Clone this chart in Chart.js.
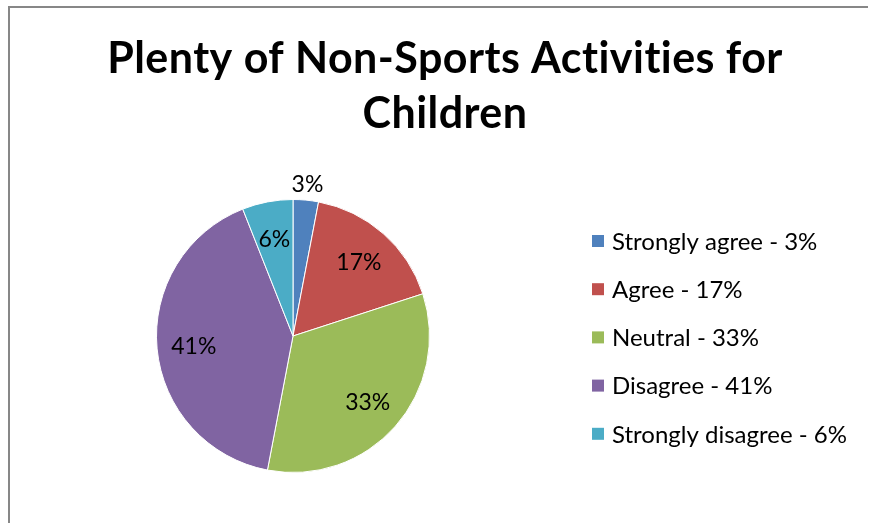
<!DOCTYPE html>
<html>
<head>
<meta charset="utf-8">
<script src="https://cdn.jsdelivr.net/npm/chart.js@4"></script>
<style>
  html, body { margin: 0; padding: 0; background: #fff; }
  #wrap { width: 870px; height: 523px; position: relative; }
</style>
</head>
<body>
<div id="wrap"><canvas id="pie" width="870" height="523"></canvas></div>
<script>
// data
const titleLines = ['Plenty of Non-Sports Activities for', 'Children'];
const categories = ['Strongly agree', 'Agree', 'Neutral', 'Disagree', 'Strongly disagree'];
const percents = [3, 17, 33, 41, 6];
const colors = ['#4F81BD', '#C0504D', '#9BBB59', '#8064A2', '#4BACC6'];

const FONT = 'Lato, "Open Sans", sans-serif';

// frame, title, legend and slice labels
const decor = {
  id: 'decor',
  afterDraw(chart) {
    const ctx = chart.ctx;
    ctx.save();
    // frame (left + top edges visible)
    ctx.strokeStyle = '#878787';
    ctx.lineWidth = 2;
    ctx.beginPath();
    ctx.moveTo(9, 530);
    ctx.lineTo(9, 7);
    ctx.lineTo(868, 7);
    ctx.stroke();

    // title (small letter spacing also stops the "ti" ligature)
    ctx.fillStyle = '#000';
    ctx.textAlign = 'center';
    ctx.textBaseline = 'alphabetic';
    ctx.letterSpacing = '0.45px';
    ctx.font = 'bold 43px ' + FONT;
    ctx.fillText(titleLines[0], 445, 73);
    ctx.fillText(titleLines[1], 445, 128);
    ctx.letterSpacing = '0px';

    // slice labels
    const meta = chart.getDatasetMeta(0);
    ctx.font = '23px ' + FONT;
    ctx.textBaseline = 'middle';
    meta.data.forEach((arc, i) => {
      const p = arc.getProps(['x', 'y', 'startAngle', 'endAngle', 'outerRadius'], true);
      const mid = (p.startAngle + p.endAngle) / 2;
      const r = percents[i] < 5 ? p.outerRadius + 17 : p.outerRadius * 0.73;
      const x = p.x + Math.cos(mid) * r;
      const y = p.y + Math.sin(mid) * r + 1;
      ctx.fillText(percents[i] + '%', x, y);
    });

    // legend
    ctx.textAlign = 'left';
    ctx.font = '24px ' + FONT;
    categories.forEach((c, i) => {
      const y = 241 + i * 48.2;
      ctx.fillStyle = colors[i];
      ctx.fillRect(592, y - 6, 12, 12);
      ctx.fillStyle = '#000';
      ctx.fillText(c + ' - ' + percents[i] + '%', 612, y + 1);
    });
    ctx.restore();
  }
};

new Chart(document.getElementById('pie'), {
  type: 'pie',
  data: {
    labels: categories,
    datasets: [{
      data: percents,
      backgroundColor: colors,
      borderColor: '#ffffff',
      borderWidth: 1,
    }]
  },
  options: {
    responsive: false,
    animation: false,
    events: [],
    layout: { padding: { left: 156, right: 440, top: 199, bottom: 50 } },
    plugins: {
      legend: { display: false },
      title: { display: false },
      tooltip: { enabled: false }
    }
  },
  plugins: [decor]
});
</script>
</body>
</html>
